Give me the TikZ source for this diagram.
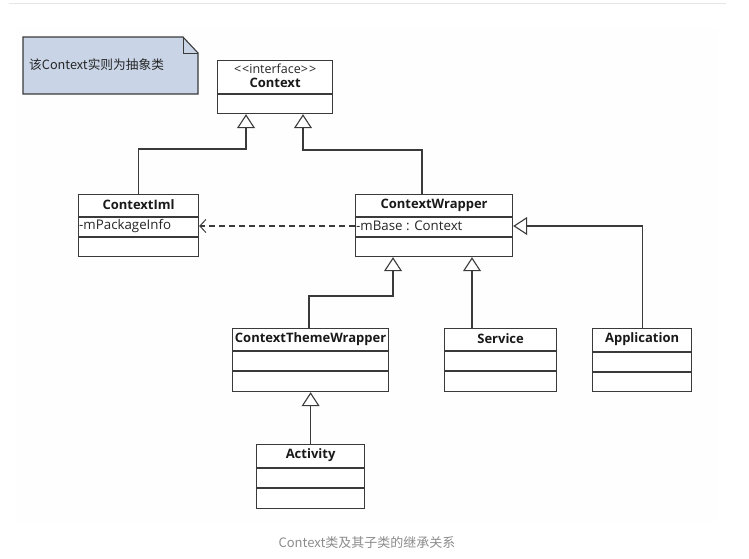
\documentclass[tikz,border=0pt]{standalone}
\usepackage{fontspec}
\setmainfont{Open Sans}
\newfontfamily\cjk{Noto Sans CJK SC}
\usetikzlibrary{arrows.meta,calc}
\definecolor{edge}{HTML}{3A3A3A}
\definecolor{notefill}{HTML}{C9D5E6}
\definecolor{captiongray}{HTML}{8C8C8C}
\tikzset{
  classbox/.style={draw=edge, line width=1.2pt, fill=white, inner sep=0pt, anchor=north west},
  classname/.style={font=\fontsize{13}{15}\selectfont\bfseries, inner sep=0pt, text=black!90},
  attr/.style={font=\fontsize{13.3}{15}\selectfont, inner sep=0pt, anchor=west, text=black!85},
  divider/.style={draw=edge, line width=1.1pt},
  inherit/.style={draw=edge, line width=1.1pt, -{Triangle[open, length=14pt, width=18pt, line width=1.1pt, fill=white]}},
  depend/.style={draw=edge, line width=1.1pt, dash pattern=on 6pt off 4pt, -{Straight Barb[length=6pt, width=13pt, line width=1pt]}}
}
\begin{document}
\begin{tikzpicture}[x=1pt, y=-1pt]
\useasboundingbox (0,0) rectangle (749,558);
\fill[white] (0,0) rectangle (749,558);
% page frame
\fill[black!0.35] (16,28) rectangle (718,522);
\draw[black!10, line width=1pt] (9,3) -- (726,3);

% note
\draw[draw=edge, line width=1.1pt, fill=notefill] (23,37) -- (183,37) -- (198,53) -- (198,94) -- (23,94) -- cycle;
\draw[draw=edge, line width=1pt] (183,37) -- (183,53) -- (198,53);
\node[anchor=west, inner sep=0pt, font=\cjk\fontsize{12.7}{14}\selectfont, text=black!85] (notetext) at (29,65) {该Context实则为抽象类};

% Context
\node[classbox, minimum width=115pt, minimum height=53pt] (ctx) at (217,60) {};
\node[font=\fontsize{12.5}{14}\selectfont, inner sep=0pt, text=black!85] (ctx-st) at ($(ctx.north)+(0,9)$) {<\kern1pt<interface>\kern1pt>};
\node[classname] (ctx-t) at ($(ctx.north)+(0,23)$) {Context};
\draw[divider] ([yshift=-34pt]ctx.north west) -- ([yshift=-34pt]ctx.north east);

% ContextIml
\node[classbox, minimum width=120pt, minimum height=62pt] (ci) at (78,194) {};
\node[classname] (ci-t) at ($(ci.north)+(0,11)$) {ContextIml};
\draw[divider] ([yshift=-23pt]ci.north west) -- ([yshift=-23pt]ci.north east);
\draw[divider] ([yshift=-43pt]ci.north west) -- ([yshift=-43pt]ci.north east);
\node[attr] (ci-a) at ($(ci.north west)+(1,32)$) {-mPackageInfo};

% ContextWrapper
\node[classbox, minimum width=157pt, minimum height=62pt] (cw) at (355,194) {};
\node[classname] (cw-t) at ($(cw.north)+(0,11)$) {ContextWrapper};
\draw[divider] ([yshift=-23pt]cw.north west) -- ([yshift=-23pt]cw.north east);
\draw[divider] ([yshift=-43pt]cw.north west) -- ([yshift=-43pt]cw.north east);
\node[attr] (cw-a) at ($(cw.north west)+(1,32)$) {-mBase : Context};

% ContextThemeWrapper
\node[classbox, minimum width=156pt, minimum height=63pt] (ctw) at (232,328) {};
\node[classname] (ctw-t) at ($(ctw.north)+(0,11)$) {ContextThemeWrapper};
\draw[divider] ([yshift=-23pt]ctw.north west) -- ([yshift=-23pt]ctw.north east);
\draw[divider] ([yshift=-43pt]ctw.north west) -- ([yshift=-43pt]ctw.north east);

% Service
\node[classbox, minimum width=112pt, minimum height=63pt] (sv) at (444,328) {};
\node[classname] (sv-t) at ($(sv.north)+(0,11)$) {Service};
\draw[divider] ([yshift=-23pt]sv.north west) -- ([yshift=-23pt]sv.north east);
\draw[divider] ([yshift=-43pt]sv.north west) -- ([yshift=-43pt]sv.north east);

% Application
\node[classbox, minimum width=99pt, minimum height=63pt] (app) at (592,328) {};
\node[classname] (app-t) at ($(app.north)+(0,11)$) {Application};
\draw[divider] ([yshift=-24pt]app.north west) -- ([yshift=-24pt]app.north east);
\draw[divider] ([yshift=-44pt]app.north west) -- ([yshift=-44pt]app.north east);

% Activity
\node[classbox, minimum width=108pt, minimum height=64pt] (act) at (256,444) {};
\node[classname] (act-t) at ($(act.north)+(0,11)$) {Activity};
\draw[divider] ([yshift=-24pt]act.north west) -- ([yshift=-24pt]act.north east);
\draw[divider] ([yshift=-44pt]act.north west) -- ([yshift=-44pt]act.north east);

% generalizations
\draw[inherit] (ci.north) -- ++(0,-45) -| ($(ctx.south west)+(29,0)$);
\draw[inherit] ($(cw.north west)+(67,0)$) -- ++(0,-44) -| ($(ctx.south west)+(86,0)$);
\draw[inherit] ($(ctw.north west)+(77,0)$) -- ++(0,-32) -| ($(cw.south west)+(38,0)$);
\draw[inherit] ($(sv.north west)+(28,0)$) -- ($(cw.south west)+(117,0)$);
\draw[inherit] (app.north) |- ([yshift=-32pt]cw.north east);
\draw[inherit] (act.north) -- (act.north |- ctw.south);

% dependency
\draw[depend] ([yshift=-32pt]cw.north west) -- ([yshift=-32pt]ci.north east);

% caption
\node[font=\cjk\fontsize{13}{15}\selectfont, text=captiongray, inner sep=0pt] (caption) at (367,543) {Context类及其子类的继承关系};
\end{tikzpicture}
\end{document}
